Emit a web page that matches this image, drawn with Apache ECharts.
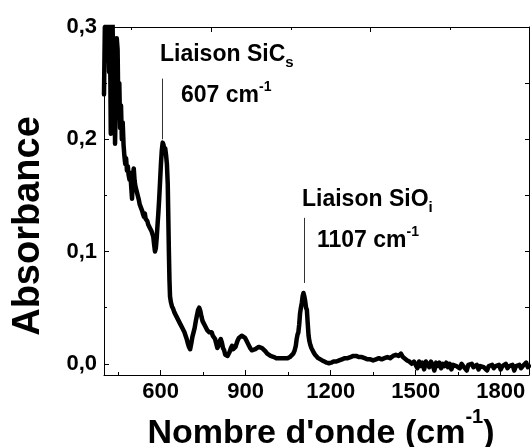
<!DOCTYPE html>
<html><head><meta charset="utf-8">
<script src="https://cdn.jsdelivr.net/npm/echarts@6/dist/echarts.min.js"></script>
<style>html,body{margin:0;padding:0;background:#fff}#c{width:531px;height:447px}</style>
</head><body><div id="c"></div>
<script>
const wavenumbers = [400,403,406,409,412,415,418,421,424,427,430,433,436,439,442,445,448,451,454,457,460,463,466,469,
472,475,478,481,484,487,490,493,496,499,502,505,508,511,514,517,520,523,526,529,532,535,538,541,544,547,550,553,556,559,562,565,568,571,574,577,580,583,586,589,592,595,598,601,604,607,610,613,616,619,622,625,627,629,631,633,636,
640,644,648,652,656,660,664,668,672,676,680,684,688,692,696,700,704,708,712,716,720,724,728,732,736,740,744,748,752,756,760,764,768,772,776,780,784,788,792,796,800,804,808,812,816,820,824,828,832,836,840,844,848,852,856,860,864,868,872,876,880,886,892,898,904,910,916,922,928,934,940,946,952,958,964,970,976,982,988,994,1000,1008,1016,1024,1032,1040,1048,1056,1062,1068,1073,1077,1080,1083,1086,1089,1092,1095,1098,1101,1104,1107,1110,1113,1116,1119,1122,1125,1128,1132,1136,1140,1145,1150,1156,1162,1170,1178,1186,1194,1202,1210,1220,1230,1240,1250,1260,1270,1280,1290,1300,1310,1320,1330,1340,1350,1360,1370,1380,1390,1400,1410,1420,1430,1440,1448,1455,1462,1470,1478,1486,1494,
1500,1506,1512,1518,1524,1530,1536,1542,1548,1554,1560,1566,1572,1578,1584,1590,1596,1602,1608,1614,1620,1626,1632,1638,1644,1650,1656,1662,1668,1674,1680,1686,1692,1698,1704,1710,1716,1722,1728,1734,1740,1746,1752,1758,1764,1770,1776,1782,1788,1794,1800,1806,1812,1818,1824,1830,1836,1842,1848,1854,1860,1866,1872,1878,1884,1890,1896,1900];
const absorbance = [0.24,0.30,0.27,0.32,0.28,0.31,0.26,0.30,0.205,0.27,0.31,0.25,0.29,0.196,0.24,0.29,0.28,0.22,0.25,0.21,0.23,0.20,0.215,0.195,
0.185,0.178,0.183,0.172,0.176,0.168,0.164,0.17,0.158,0.147,0.168,0.174,0.163,0.158,0.155,0.152,0.149,0.146,0.142,0.143,0.138,0.136,0.133,0.131,0.134,0.129,0.128,0.127,0.124,0.125,0.121,0.12,0.118,0.119,0.113,0.106,0.100,0.103,0.112,0.124,0.135,0.148,0.163,0.178,0.19,0.197,0.195,0.19,0.192,0.186,0.178,0.16,0.13,0.10,0.075,0.06,0.055,
0.051,0.049,0.046,0.044,0.042,0.04,0.039,0.036,0.036,0.032,0.03,0.028,0.025,0.022,0.018,0.015,0.013,0.018,0.024,0.028,0.032,0.038,0.043,0.048,0.05,0.047,0.042,0.038,0.036,0.034,0.032,0.03,0.031,0.028,0.027,0.028,0.025,0.026,0.022,0.018,0.014,0.016,0.02,0.022,0.019,0.014,0.012,0.008,0.007,0.007,0.009,0.011,0.014,0.016,0.013,0.012,0.015,0.018,0.021,0.023,0.024,0.025,0.025,0.023,0.02,0.017,0.014,0.012,0.012,0.013,0.014,0.015,0.015,0.014,0.013,0.011,0.009,0.008,0.007,0.006,0.006,0.005,0.005,0.005,0.005,0.005,0.005,0.006,0.007,0.009,0.012,0.016,0.022,0.026,0.028,0.035,0.045,0.05,0.054,0.06,0.063,0.06,0.056,0.05,0.048,0.036,0.025,0.02,0.017,0.014,0.012,0.01,0.008,0.007,0.005,0.004,0.003,0.002,0.001,0.0005,0.001,0.002,0.002,0.003,0.004,0.005,0.005,0.006,0.007,0.007,0.006,0.006,0.005,0.004,0.004,0.003,0.004,0.005,0.004,0.005,0.006,0.005,0.007,0.008,0.007,0.009,0.006,0.005,0.003,0.002,0.0,0.002,
0.001,-0.004,0.002,-0.002,0.001,-0.005,0.002,0.0,-0.003,0.002,-0.001,-0.006,0.001,-0.002,0.001,-0.004,0.0,-0.002,0.001,-0.003,0.0,-0.005,-0.001,0.0,-0.002,-0.001,-0.004,0.0,-0.002,-0.001,-0.006,-0.001,-0.002,0.0,-0.003,-0.002,-0.001,-0.005,-0.002,-0.001,-0.003,-0.002,-0.006,-0.002,-0.003,-0.001,-0.004,-0.002,-0.003,-0.001,-0.005,-0.002,-0.003,0.0,-0.004,-0.002,-0.003,-0.001,-0.006,-0.002,-0.003,-0.001,-0.004,-0.002,-0.003,0.001,-0.003,-0.002];
const xTickLabels = [600, 900, 1200, 1500, 1800];
const xMinorTicks = [450, 750, 1050, 1350, 1650];
const topMajorTicks = [778, 1339];
const topMinorTicks = [495, 1060, 1621];
const yTickValues = [0, 0.1, 0.2, 0.3];
const yTickLabels = ['0,0', '0,1', '0,2', '0,3'];
const yMinorTicks = [0.05, 0.15, 0.25];
const yRightTicks = [0, 0.05, 0.1, 0.15, 0.2, 0.25, 0.3];
const peak1 = {wn: 607, from: 0.2, to: 0.254};
const peak2 = {wn: 1107, from: 0.072, to: 0.130};

const FF = '"Liberation Sans", Arial, sans-serif';
const ctx = document.createElement('canvas').getContext('2d');
function w(str, size) { ctx.font = 'bold ' + size + 'px ' + FF; return ctx.measureText(str).width; }
function t(x, y, str, size, extra) {
  return Object.assign({type: 'text', x: x, y: y, silent: true,
    style: {text: str, font: 'bold ' + size + 'px ' + FF, fill: '#000', align: 'left', verticalAlign: 'middle'}}, extra || {});
}
function line(x, base, parts) {
  const out = []; let cx = x;
  parts.forEach(p => {
    const b = base + (p.dy || 0);
    out.push(t(cx, b - 0.31 * p.size, p.s, p.size));
    cx += w(p.s, p.size);
  });
  return out;
}
function lineWidth(parts) { return parts.reduce((a, p) => a + w(p.s, p.size), 0); }

const xTitleParts = [{s: "Nombre d'onde (cm", size: 34}, {s: '-1', size: 20, dy: -20}, {s: ')', size: 34}];
const xTitleW = lineWidth(xTitleParts);

const graphics = [].concat(
  line(160, 62, [{s: 'Liaison SiC', size: 23}, {s: 's', size: 15, dy: 6}]),
  line(181, 103, [{s: '607 cm', size: 23}, {s: '-1', size: 14, dy: -12}]),
  line(302, 207, [{s: 'Liaison SiO', size: 23}, {s: 'i', size: 15, dy: 6}]),
  line(317, 248, [{s: '1107 cm', size: 23}, {s: '-1', size: 14, dy: -12}]),
  line(321 - xTitleW / 2, 444, xTitleParts),
  [t(29, 226, 'Absorbance', 38, {rotation: Math.PI / 2, style: {text: 'Absorbance', font: 'bold 38px ' + FF, fill: '#000', align: 'center', verticalAlign: 'middle'}})]
);

const chart = echarts.init(document.getElementById('c'), null, {renderer: 'canvas'});
function axis(kind, pos, min, max, ticks, len, labels, showLine) {
  const a = {type: 'value', position: pos, min: min, max: max,
    axisLine: {show: !!showLine, onZero: false, lineStyle: {color: '#000', width: 1}},
    splitLine: {show: false}, minorTick: {show: false},
    axisTick: {show: true, inside: true, length: len, customValues: ticks, lineStyle: {color: '#000', width: 1}},
    axisLabel: {show: false}};
  if (labels) {
    a.axisLabel = {show: true, customValues: ticks, color: '#000', fontFamily: FF, fontWeight: 'bold', fontSize: 22,
      margin: kind === 'x' ? 6 : 7, formatter: labels};
  }
  return a;
}
chart.setOption({
  animation: false,
  backgroundColor: '#fff',
  grid: {left: 104, right: 2, top: 27, bottom: 72},
  xAxis: [
    axis('x', 'bottom', 400, 1900, xTickLabels, 5, v => String(Math.round(v)), true),
    axis('x', 'bottom', 400, 1900, xMinorTicks, 3, null, false),
    axis('x', 'top', 400, 1900, topMajorTicks, 5, null, true),
    axis('x', 'top', 400, 1900, topMinorTicks, 3, null, false)
  ],
  yAxis: [
    axis('y', 'left', -0.01, 0.3, yTickValues, 5,
      v => { const i = yTickValues.findIndex(q => Math.abs(q - v) < 1e-6); return i >= 0 ? yTickLabels[i] : ''; }, true),
    axis('y', 'left', -0.01, 0.3, yMinorTicks, 3, null, false),
    axis('y', 'right', -0.01, 0.3, yRightTicks, 4, null, true)
  ],
  series: [{
    type: 'line', xAxisIndex: 0, yAxisIndex: 0, showSymbol: false, symbol: 'none', clip: true,
    data: wavenumbers.map((x, i) => [x, absorbance[i]]),
    lineStyle: {color: '#000', width: 4.5, join: 'round', cap: 'round'},
    markLine: {silent: true, symbol: 'none', label: {show: false}, animation: false,
      lineStyle: {color: '#333', width: 1, type: 'solid'},
      data: [
        [{coord: [peak1.wn, peak1.from]}, {coord: [peak1.wn, peak1.to]}],
        [{coord: [peak2.wn, peak2.from]}, {coord: [peak2.wn, peak2.to]}]
      ]}
  }],
  graphic: graphics
});
</script>
</body></html>
